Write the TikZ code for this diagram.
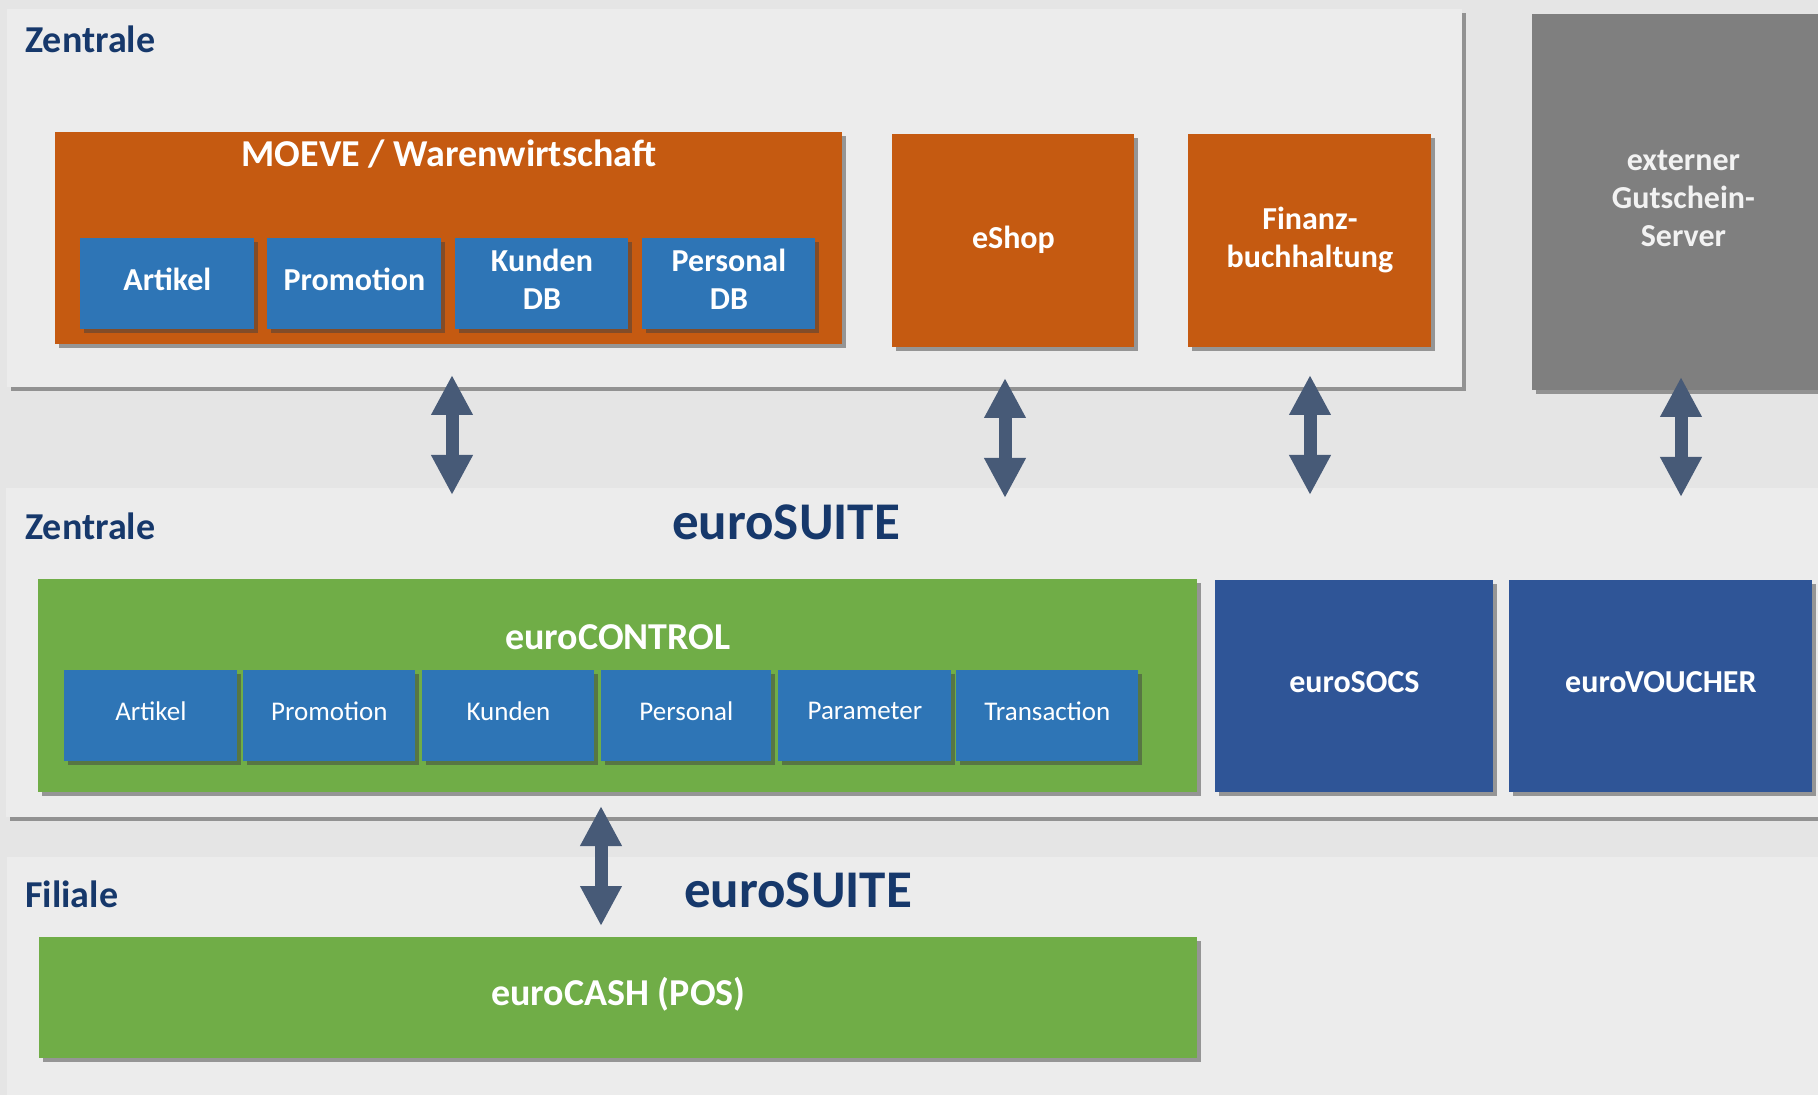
\documentclass[tikz,border=0pt]{standalone}
\usepackage{fontspec}
\setmainfont{Carlito}
\usetikzlibrary{arrows.meta,shadows}
\definecolor{bgGrey}{HTML}{E5E5E5}
\definecolor{panelGrey}{HTML}{ECECEC}
\definecolor{moeveOrange}{HTML}{C55A11}
\definecolor{tileBlue}{HTML}{2E75B6}
\definecolor{suiteGreen}{HTML}{70AD47}
\definecolor{suiteNavy}{HTML}{2F5597}
\definecolor{extGrey}{HTML}{7F7F7F}
\definecolor{headNavy}{HTML}{16386B}
\definecolor{arrowSlate}{HTML}{475A77}
\tikzset{
  shadowed/.style={drop shadow={shadow xshift=2pt, shadow yshift=-2pt, opacity=.5, fill=black!75}},
  panel/.style={fill=panelGrey, shadowed},
  block/.style={anchor=north west, inner sep=0pt, align=center, text=white, text depth=4pt,
    font=\bfseries\fontsize{16}{19}\selectfont, shadowed},
  tile/.style={block, fill=tileBlue, minimum height=45.5pt, text depth=4.5pt},
  smalltile/.style={tile, text depth=5pt, font=\fontsize{13.5}{16}\selectfont},
  head/.style={text=headNavy, font=\bfseries\fontsize{19}{21}\selectfont, inner sep=0pt},
  suite/.style={text=headNavy, font=\bfseries\fontsize{26.5}{29}\selectfont, inner sep=0pt},
  boxtitle/.style={text=white, font=\bfseries\fontsize{19}{21}\selectfont, inner sep=0pt},
  dblarrow/.style={draw=arrowSlate, line width=6.5pt,
    {Triangle[width=19.5pt,length=20pt]}-{Triangle[width=19.5pt,length=20pt]}}
}

\begin{document}
\begin{tikzpicture}[x=0.5pt, y=-0.5pt]
		%%%%% BACKGROUND %%%%%
		\fill[bgGrey] (0, 0) rectangle (1818, 1095);
		\useasboundingbox (0, 0) rectangle (1818, 1095);
		
		\fill[panel] (7, 9) rectangle (1462, 387);
		\fill[panel] (6, 488) rectangle (1830, 817);
		\fill[panel] (7, 857) rectangle (1830, 1110);
		
		%%%%% ZENTRALE (TOP) %%%%%
		\node[head, anchor=base west] (zentraleA) at (25, 53) {Zentrale};
		
		\node[block, fill=moeveOrange, minimum width=393.5pt, minimum height=106pt] (moeve) at (55, 132) {};
		\node[boxtitle, anchor=base] (moeveT) at (449, 167) {MOEVE / Warenwirtschaft};
		\node[tile, minimum width=87pt] (artA) at (80, 238) {Artikel};
		\node[tile, minimum width=87pt] (promoA) at (267, 238) {Promotion};
		\node[tile, minimum width=86.5pt] (kundenA) at (455, 238) {Kunden\\DB};
		\node[tile, minimum width=86.5pt] (personalA) at (642, 238) {Personal\\DB};
		
		\node[block, fill=moeveOrange, minimum width=121pt, minimum height=106.5pt] (eshop) at (892, 134) {eShop};
		\node[block, fill=moeveOrange, minimum width=121.5pt, minimum height=106.5pt] (fibu) at (1188, 134) {Finanz-\\buchhaltung};
		
		\node[block, fill=extGrey, text=black!5, minimum width=151pt, minimum height=188pt] (gutschein) at (1532, 14) {externer\\Gutschein-\\Server};
		
		%%%%% ZENTRALE (EUROSUITE) %%%%%
		\node[head, anchor=base west] (zentraleB) at (25, 540) {Zentrale};
		\node[suite, anchor=base] (suiteZ) at (786, 540) {euroSUITE};
		
		\node[block, fill=suiteGreen, minimum width=579.5pt, minimum height=106.5pt] (control) at (38, 579) {};
		\node[boxtitle, anchor=base] (controlT) at (618, 649) {euroCONTROL};
		\node[smalltile, minimum width=86.5pt] (artB) at (64, 670) {Artikel};
		\node[smalltile, minimum width=86pt] (promoB) at (243, 670) {Promotion};
		\node[smalltile, minimum width=86pt] (kundenB) at (422, 670) {Kunden};
		\node[smalltile, minimum width=85pt] (personalB) at (601, 670) {Personal};
		\node[smalltile, minimum width=86.5pt] (paramB) at (778, 670) {Parameter};
		\node[smalltile, minimum width=91pt] (transB) at (956, 670) {Transaction};
		
		\node[block, fill=suiteNavy, minimum width=139pt, minimum height=106pt] (socs) at (1215, 580) {euroSOCS};
		\node[block, fill=suiteNavy, minimum width=151.5pt, minimum height=106pt] (voucher) at (1509, 580) {euroVOUCHER};
		
		%%%%% FILIALE %%%%%
		\node[head, anchor=base west] (filiale) at (25, 907) {Filiale};
		\node[suite, anchor=base] (suiteF) at (798, 907) {euroSUITE};
		\node[block, fill=suiteGreen, text depth=7pt, font=\bfseries\fontsize{19}{21}\selectfont, minimum width=579pt, minimum height=60.5pt] (cash) at (39, 937) {euroCASH (POS)};
		
		%%%%% ARROWS %%%%%
		\coordinate (moeveS) at (452, 375);
		\coordinate (suiteN1) at (452, 495);
		\coordinate (eshopS) at (1005, 378);
		\coordinate (suiteN2) at (1005, 498);
		\coordinate (fibuS) at (1310, 375);
		\coordinate (suiteN3) at (1310, 495);
		\coordinate (gutscheinS) at (1681, 377);
		\coordinate (suiteN4) at (1681, 497);
		\coordinate (controlS) at (601, 806);
		\coordinate (cashN) at (601, 926);
		
		\draw[dblarrow] (moeveS) -- (suiteN1);
		\draw[dblarrow] (eshopS) -- (suiteN2);
		\draw[dblarrow] (fibuS) -- (suiteN3);
		\draw[dblarrow] (gutscheinS) -- (suiteN4);
		\draw[dblarrow] (controlS) -- (cashN);
		
		%%%%% END %%%%%
	\end{tikzpicture}
\end{document}
